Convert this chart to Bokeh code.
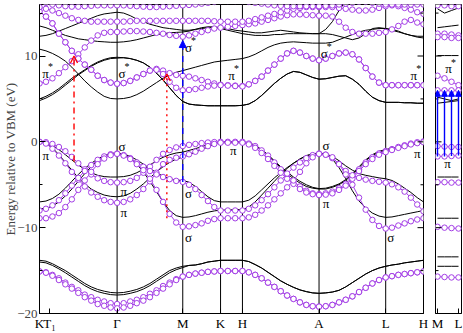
from bokeh.plotting import figure
from bokeh.layouts import row
from bokeh.models import Range1d, FixedTicker, Span, Arrow, OpenHead, NormalHead
from bokeh.core.properties import value
from bokeh.embed import file_html
from bokeh.resources import INLINE

SERIF = "Liberation Serif"
PURPLE = "#a33de6"

# ---------------- k-path (main panel) ----------------
hs_x = [0, 10, 78, 144, 182, 204, 281, 348, 386]
hs_labels = ["K", "T\u2081", "\u0393", "M", "K", "H", "A", "L", "H"]
vline_x = [78, 144, 182, 204, 281, 348]

kx = [0, 6.5, 13, 19.5, 26, 32.5, 39, 45.5, 52, 58.5, 65, 71.5, 78,
      84.6, 91.2, 97.8, 104.4, 111, 117.6, 124.2, 130.8, 137.4, 144,
      150.3, 156.7, 163, 169.3, 175.7, 182,
      189.3, 196.7, 204,
      210.4, 216.8, 223.3, 229.7, 236.1, 242.5, 248.9, 255.3, 261.8, 268.2, 274.6, 281,
      287.7, 294.4, 301.1, 307.8, 314.5, 321.2, 327.9, 334.6, 341.3, 348,
      354.3, 360.7, 367, 373.3, 379.7, 386]

# ---------------- black bands (main) ----------------
b_low1 = [-13.8, -13.9, -14.2, -14.6, -15.0, -15.5, -16.0, -16.5, -16.9, -17.2, -17.4, -17.55, -17.6,
          -17.55, -17.4, -17.2, -16.9, -16.5, -16.0, -15.5, -15.0, -14.7, -14.5,
          -14.4, -14.35, -14.2, -14.0, -13.9, -13.8,
          -13.8, -13.8, -13.8,
          -13.95, -14.3, -14.7, -15.2, -15.7, -16.2, -16.6, -16.95, -17.25, -17.45, -17.6, -17.65,
          -17.6, -17.5, -17.3, -16.9, -16.4, -15.9, -15.4, -15.0, -14.7, -14.5,
          -14.35, -14.25, -14.1, -14.0, -13.9, -13.8]
b_low2 = [-14.0, -14.1, -14.4, -14.8, -15.25, -15.75, -16.25, -16.75, -17.15, -17.45, -17.65, -17.8, -17.85,
          -17.8, -17.65, -17.45, -17.15, -16.75, -16.25, -15.75, -15.25, -14.9, -14.65,
          -14.4, -14.35, -14.2, -14.0, -13.9, -13.8,
          -13.8, -13.8, -13.8,
          -13.95, -14.3, -14.7, -15.2, -15.7, -16.2, -16.6, -16.95, -17.25, -17.45, -17.6, -17.65,
          -17.6, -17.5, -17.3, -16.9, -16.4, -15.9, -15.4, -15.0, -14.7, -14.5,
          -14.35, -14.25, -14.1, -14.0, -13.9, -13.8]
bv1 = [0.0, -0.1, -0.4, -0.9, -1.5, -2.1, -2.7, -3.2, -3.6, -3.9, -4.05, -4.1, -4.1,
       -4.05, -3.9, -3.6, -3.2, -2.7, -2.2, -1.8, -1.5, -1.3, -1.2,
       -1.0, -0.8, -0.55, -0.35, -0.15, 0.0,
       0.0, 0.0, 0.0,
       -0.1, -0.4, -0.9, -1.5, -2.2, -2.9, -3.5, -4.1, -4.6, -5.0, -5.3, -5.45,
       -5.4, -5.2, -4.9, -4.4, -3.7, -2.9, -2.1, -1.5, -1.1, -0.9,
       -0.75, -0.6, -0.45, -0.3, -0.15, 0.0]
bv2 = [0.0, -0.2, -0.7, -1.5, -2.4, -3.3, -4.2, -4.9, -5.5, -5.9, -6.2, -6.35, -6.4,
       -6.3, -6.0, -5.5, -4.9, -4.2, -3.5, -2.9, -2.4, -2.0, -1.8,
       -1.5, -1.2, -0.9, -0.6, -0.3, -0.1,
       -0.1, -0.1, -0.1,
       -0.2, -0.5, -1.0, -1.6, -2.3, -3.0, -3.7, -4.3, -4.8, -5.2, -5.4, -5.5,
       -5.5, -5.3, -5.0, -4.5, -3.8, -3.0, -2.2, -1.6, -1.2, -1.0,
       -0.85, -0.7, -0.55, -0.4, -0.25, -0.1]
bv3 = [-7.0, -6.9, -6.6, -6.1, -5.4, -4.6, -3.8, -3.1, -2.5, -2.0, -1.6, -1.35, -1.3,
       -1.4, -1.7, -2.1, -2.6, -3.1, -3.6, -4.0, -4.3, -4.45, -4.5,
       -4.7, -5.2, -5.8, -6.4, -6.85, -7.0,
       -7.0, -7.0, -7.0,
       -6.8, -6.3, -5.6, -4.9, -4.2, -3.6, -3.0, -2.5, -2.0, -1.65, -1.4, -1.3,
       -1.4, -1.7, -2.2, -2.8, -3.3, -3.7, -3.9, -4.05, -4.2, -4.3,
       -4.5, -4.9, -5.4, -5.9, -6.5, -7.0]
bv4 = [-7.8, -7.75, -7.5, -7.0, -6.3, -5.5, -4.6, -3.7, -2.9, -2.2, -1.7, -1.4, -1.3,
       -1.5, -1.9, -2.6, -3.5, -4.6, -5.8, -7.0, -8.0, -8.6, -8.8,
       -8.75, -8.6, -8.4, -8.2, -8.05, -7.95,
       -7.95, -7.9, -7.9,
       -7.6, -7.0, -6.2, -5.4, -4.6, -3.8, -3.1, -2.5, -2.0, -1.6, -1.4, -1.3,
       -1.5, -2.0, -3.0, -4.3, -5.7, -6.9, -7.7, -8.3, -8.65, -8.8,
       -8.75, -8.6, -8.45, -8.3, -8.15, -8.0]
bc1 = [5.0, 5.3, 5.7, 6.2, 6.8, 7.4, 7.9, 8.4, 8.9, 9.3, 9.6, 9.8, 9.85,
       9.8, 9.7, 9.5, 9.2, 8.7, 8.0, 7.2, 6.3, 5.4, 4.7,
       4.4, 4.3, 4.25, 4.2, 4.2, 4.2,
       4.2, 4.2, 4.25,
       4.4, 4.8, 5.4, 6.1, 6.8, 7.4, 7.9, 8.2, 8.1, 7.8, 7.5, 7.3,
       7.35, 7.5, 7.65, 7.7, 7.3, 6.7, 5.9, 5.2, 4.8, 4.6,
       4.6, 4.6, 4.55, 4.55, 4.5, 4.5]
bc1b = [4.8, 5.1, 5.5, 6.0, 6.6, 7.2, 7.8, 8.3, 8.8, 9.2, 9.5, 9.7, 9.75,
        9.8, 9.7, 9.5, 9.2, 8.7, 8.0, 7.2, 6.3, 5.4, 4.7,
        4.4, 4.3, 4.25, 4.2, 4.2, 4.2,
        4.2, 4.2, 4.25,
        4.4, 4.8, 5.4, 6.1, 6.8, 7.4, 7.9, 8.2, 8.1, 7.8, 7.5, 7.3,
        7.35, 7.5, 7.65, 7.7, 7.3, 6.7, 5.9, 5.2, 4.8, 4.6,
        4.6, 4.6, 4.55, 4.55, 4.5, 4.5]
bc2 = [10.8, 10.6, 10.3, 9.9, 9.4, 8.7, 7.9, 7.1, 6.4, 5.8, 5.3, 5.05, 5.0,
       5.05, 5.2, 5.5, 5.9, 6.4, 6.9, 7.4, 7.8, 8.1, 8.3,
       8.5, 8.7, 8.9, 9.1, 9.3, 9.4,
       9.5, 9.6, 9.7,
       9.9, 10.2, 10.6, 11.0, 11.3, 11.5, 11.6, 11.65, 11.6, 11.55, 11.5, 11.5,
       11.5, 11.6, 11.9, 12.2, 12.5, 12.8, 13.0, 13.1, 13.2, 13.2,
       13.1, 12.9, 12.6, 12.4, 12.2, 12.1]
bc3 = [13.5, 13.3, 13.0, 12.7, 12.4, 12.2, 12.0, 11.9, 11.8, 11.7, 11.65, 11.6, 11.6,
       11.65, 11.75, 11.9, 12.1, 12.3, 12.5, 12.6, 12.7, 12.75, 12.8,
       12.9, 13.1, 13.3, 13.4, 13.4, 13.3,
       13.2, 13.0, 12.9,
       12.8, 12.7, 12.7, 12.8, 12.9, 13.0, 12.9, 12.8, 12.7, 12.65, 12.6, 12.6,
       12.6, 12.5, 12.3, 12.1, 11.9, 12.1, 12.6, 13.2, 13.3, 13.2,
       13.0, 12.8, 12.6, 12.4, 12.3, 12.3]
bc4 = [12.3, 12.4, 12.6, 12.9, 13.2, 13.5, 13.8, 14.1, 14.4, 14.7, 14.9, 15.0, 15.1,
       15.0, 14.7, 14.3, 14.0, 13.7, 13.5, 13.3, 13.2, 13.1, 13.0,
       13.0, 13.1, 13.2, 13.3, 13.3, 13.2,
       13.0, 12.8, 12.6,
       12.5, 12.4, 12.4, 12.4, 12.5, 12.5, 12.6, 12.6, 12.6, 12.6, 12.6, 12.6,
       13.1, 14.0, 15.3, 16.4, 17.2, 17.6, 17.8, 17.8, 17.7, 17.5,
       17.3, 17.1, 16.9, 16.8, 16.7, 16.6]
black_bands = [b_low1, b_low2, bv1, bv2, bv3, bv4, bc1, bc1b, bc2, bc3, bc4]

# ---------------- purple bands (main) ----------------
p_low1 = [-15.1, -15.2, -15.5, -15.9, -16.4, -16.9, -17.3, -17.8, -18.1, -18.4, -18.6, -18.8, -18.9,
          -18.8, -18.6, -18.4, -18.1, -17.7, -17.3, -16.8, -16.4, -16.0, -15.7,
          -15.5, -15.35, -15.25, -15.15, -15.1, -15.05,
          -15.05, -15.05, -15.05,
          -15.2, -15.5, -15.9, -16.4, -16.9, -17.4, -17.9, -18.3, -18.7, -19.0, -19.15, -19.2,
          -19.15, -19.0, -18.7, -18.4, -18.0, -17.5, -17.0, -16.5, -16.1, -15.8,
          -15.65, -15.5, -15.4, -15.3, -15.2, -15.1]
p_low2 = [-15.1, -15.25, -15.6, -16.1, -16.6, -17.1, -17.6, -18.1, -18.5, -18.9, -19.1, -19.3, -19.4,
          -19.3, -19.1, -18.8, -18.5, -18.1, -17.6, -17.1, -16.6, -16.1, -15.7,
          -15.5, -15.35, -15.25, -15.15, -15.1, -15.05,
          -15.05, -15.05, -15.05,
          -15.2, -15.5, -15.9, -16.4, -16.9, -17.4, -17.9, -18.3, -18.7, -19.0, -19.15, -19.2,
          -19.15, -19.0, -18.7, -18.4, -18.0, -17.5, -17.0, -16.5, -16.1, -15.8,
          -15.65, -15.5, -15.4, -15.3, -15.2, -15.1]
p_pi1 = [0.0, -0.05, -0.25, -0.6, -1.1, -1.75, -2.5, -3.2, -3.8, -4.25, -4.55, -4.7, -4.75,
         -4.7, -4.55, -4.2, -3.6, -2.9, -2.1, -1.4, -0.95, -0.65, -0.49,
         -0.35, -0.25, -0.15, -0.08, -0.03, 0.0,
         0.0, 0.0, 0.0,
         -0.2, -0.5, -1.0, -1.6, -2.4, -3.2, -3.9, -4.6, -5.2, -5.7, -6.0, -6.1,
         -6.0, -5.8, -5.4, -4.9, -4.1, -3.2, -2.4, -1.8, -1.35, -1.07,
         -0.85, -0.6, -0.4, -0.2, -0.05, 0.05]
p_pi2 = [0.0, -0.2, -0.8, -1.6, -2.5, -3.5, -4.4, -5.2, -5.9, -6.4, -6.8, -7.0, -7.1,
         -7.0, -6.7, -6.2, -5.5, -4.6, -3.6, -2.6, -2.1, -1.85, -1.7,
         -1.45, -1.15, -0.8, -0.5, -0.25, -0.1,
         -0.1, -0.1, -0.1,
         -0.3, -0.7, -1.3, -2.0, -2.8, -3.6, -4.3, -4.9, -5.5, -5.9, -6.1, -6.2,
         -6.15, -6.0, -5.6, -5.1, -4.3, -3.4, -2.6, -2.0, -1.5, -1.2,
         -0.95, -0.7, -0.5, -0.3, -0.15, -0.05]
p_sig1 = [-8.0, -7.8, -7.4, -6.8, -6.0, -5.1, -4.2, -3.4, -2.7, -2.1, -1.7, -1.45, -1.37,
          -1.55, -1.9, -2.4, -2.9, -3.4, -3.8, -4.1, -4.35, -4.55, -4.67,
          -5.0, -5.5, -6.2, -6.9, -7.6, -8.0,
          -8.0, -8.0, -8.0,
          -7.8, -7.4, -6.8, -6.1, -5.3, -4.5, -3.7, -3.0, -2.4, -1.9, -1.55, -1.37,
          -1.5, -1.9, -2.6, -3.4, -3.9, -4.2, -4.4, -4.55, -4.65, -4.75,
          -4.95, -5.3, -5.8, -6.5, -7.3, -8.1]
p_sig2 = [-8.9, -8.9, -8.7, -8.3, -7.6, -6.7, -5.6, -4.5, -3.5, -2.6, -1.95, -1.55, -1.4,
          -1.6, -2.0, -2.6, -3.3, -4.3, -5.6, -7.0, -8.4, -9.4, -9.9,
          -9.85, -9.7, -9.5, -9.2, -9.0, -8.9,
          -8.9, -8.9, -8.9,
          -8.8, -8.5, -8.0, -7.4, -6.7, -6.0, -5.3, -4.5, -3.5, -2.5, -1.8, -1.4,
          -1.5, -1.8, -2.6, -3.8, -5.0, -6.5, -7.9, -9.1, -9.8, -10.1,
          -10.0, -9.75, -9.5, -9.25, -9.05, -8.9]
p_c1 = [6.8, 7.0, 7.4, 8.0, 8.7, 9.4, 10.2, 11.0, 11.8, 12.4, 12.7, 12.8, 12.8,
        12.85, 12.9, 12.9, 12.85, 12.8, 12.7, 12.6, 12.45, 12.35, 12.25,
        12.4, 12.6, 12.8, 13.0, 13.2, 13.3,
        13.4, 13.5, 13.6,
        13.7, 13.8, 14.0, 14.2, 14.4, 14.6, 14.75, 14.85, 14.85, 14.8, 14.75, 14.7,
        14.7, 14.6, 14.0, 13.3, 12.8, 12.6, 12.6, 12.6, 12.7, 12.8,
        13.1, 13.5, 14.0, 14.2, 13.9, 13.7]
p_c2 = [15.2, 14.6, 13.8, 12.6, 11.6, 10.6, 9.7, 9.0, 8.4, 7.7, 7.2, 6.9, 6.77,
        6.85, 7.1, 7.5, 7.9, 8.3, 8.5, 8.3, 8.0, 7.8, 7.7,
        7.6, 7.4, 7.2, 7.0, 6.8, 6.65,
        6.6, 6.55, 6.5,
        6.7, 7.1, 7.6, 8.3, 9.0, 9.7, 10.3, 10.6, 10.4, 10.0, 9.7, 9.5,
        9.7, 10.0, 10.3, 10.4, 10.2, 9.6, 8.6, 7.6, 6.9, 6.6,
        6.6, 6.6, 6.6, 6.6, 6.6, 6.6]
p_c3 = [15.2, 14.6, 13.8, 12.6, 11.6, 10.6, 9.7, 9.0, 8.4, 7.7, 7.2, 6.9, 6.77,
        6.85, 7.1, 7.5, 7.9, 8.3, 8.4, 7.9, 7.0, 6.3, 6.0,
        6.05, 6.15, 6.3, 6.45, 6.55, 6.6,
        6.55, 6.5, 6.45,
        6.7, 7.1, 7.6, 8.3, 9.0, 9.7, 10.3, 10.6, 10.4, 10.0, 9.7, 9.5,
        9.7, 10.0, 10.3, 10.4, 10.2, 9.6, 8.6, 7.6, 6.9, 6.6,
        6.6, 6.6, 6.6, 6.6, 6.6, 6.6]
p_c4 = [15.7, 15.5, 15.3, 15.0, 14.7, 14.4, 14.2, 14.1, 14.0, 14.0, 14.0, 14.0, 14.0,
        14.0, 14.05, 14.1, 14.1, 14.1, 14.1, 14.1, 14.1, 14.1, 14.1,
        14.1, 14.1, 14.1, 14.1, 14.05, 14.0,
        14.0, 14.0, 14.0,
        14.1, 14.3, 14.5, 14.7, 14.9, 15.1, 15.3, 15.5, 15.6, 15.7, 15.7, 15.7,
        15.7, 15.7, 15.6, 15.5, 15.4, 15.3, 15.3, 15.4, 15.6, 15.8,
        15.9, 15.8, 15.6, 15.4, 15.1, 14.9]
p_c5 = [16.4, 16.2, 16.0, 15.9, 15.8, 15.75, 15.75, 15.8, 15.85, 15.9, 15.9, 15.9, 15.9,
        15.9, 15.85, 15.8, 15.75, 15.7, 15.7, 15.75, 15.8, 15.85, 15.9,
        15.95, 16.0, 16.1, 16.2, 16.3, 16.4,
        16.4, 16.4, 16.4,
        16.3, 16.2, 16.1, 16.0, 15.9, 15.85, 15.8, 15.8, 15.8, 15.8, 15.8, 15.8,
        15.85, 15.9, 16.0, 16.1, 16.2, 16.3, 16.3, 16.2, 16.1, 16.0,
        16.0, 16.0, 16.0, 16.0, 16.0, 16.0]
purple_bands = [p_low1, p_low2, p_pi1, p_pi2, p_sig1, p_sig2, p_c1, p_c2, p_c3, p_c4, p_c5]

# ---------------- side panel (M-L) ----------------
side_ticks = [0, 21]
side_labels = ["M", "L"]
side_kx = [0, 7, 14, 21]
side_purple = [[15.9, 15.9, 15.8, 15.8], [12.6, 12.6, 12.5, 12.4], [12.2, 12.2, 12.1, 12.1],
               [7.7, 7.4, 7.0, 6.6], [6.0, 6.0, 6.0, 6.0], [-0.5, -0.55, -0.6, -0.6],
               [-1.7, -1.7, -1.65, -1.6], [-4.7, -4.7, -4.75, -4.75], [-9.9, -10.0, -10.05, -10.1],
               [-15.7, -15.75, -15.8, -15.8]]
side_black = [[15.5, 15.0, 15.3, 15.6], [13.3, 13.4, 13.5, 13.6], [10.05, 10.05, 10.05, 10.05],
              [5.2, 5.0, 4.8, 5.0], [4.5, 4.6, 4.7, 4.8], [-4.1, -4.1, -4.1, -4.1],
              [-8.9, -8.9, -8.9, -8.9], [-13.4, -13.4, -13.4, -13.4], [-14.5, -14.5, -14.5, -14.5]]
side_arrow_lo = [-1.7, -1.7, -1.65, -1.6]
side_arrow_hi = [6.0, 6.0, 6.0, 6.0]

# ---------------- transitions (main) ----------------
arrow_x = [34.7, 128, 144]
arrow_lo = [-2.3, -8.9, -4.67]
arrow_hi = [10.0, 7.9, 11.8]
arrow_color = ["red", "red", "blue"]
arrow_dash = ["dashdot", "dotted", "dashed"]

# ---------------- band labels ----------------
lab_t = ["\u03c0", "\u03c3", "\u03c3", "\u03c0", "\u03c3", "\u03c0",
         "\u03c0", "\u03c3", "\u03c0", "\u03c0", "\u03c3", "\u03c3", "\u03c0", "\u03c3", "\u03c0", "\u03c3", "\u03c0"]
lab_x = [6, 83, 149.7, 193, 286.3, 376.3,
         6.3, 83, 84.7, 84.7, 149.7, 149.7, 194.7, 288, 288, 353, 379.7]
lab_y = [8.0, 8.0, 11.0, 7.7, 10.25, 7.7,
         -1.57, -0.6, -5.8, -8.2, -6.0, -11.1, -1.0, -0.4, -7.2, -11.1, -1.4]
lab_star = [True, True, True, True, True, True,
            False, False, False, False, False, False, False, False, False, False, False]
side_lab_t = ["\u03c0", "\u03c0"]
side_lab_x = [11, 10]
side_lab_y = [8.5, -2.5]
side_lab_star = [True, False]

Y_TICKS = [-20, -10, 0, 10]
Y_MINOR = [-15, -5, 5, 15]
MAJOR_LEN = 6
MINOR_LEN = 3
FIG_H = 333


def style_common(fig):
    fig.xgrid.visible = False
    fig.ygrid.visible = False
    fig.outline_line_color = "black"
    fig.outline_line_width = 1
    fig.background_fill_color = "white"
    fig.border_fill_color = "white"
    for ax in fig.xaxis:
        ax.major_label_text_font = SERIF
        ax.major_label_text_font_size = "13px"
        ax.major_label_text_color = "black"
        ax.major_tick_in = 5
        ax.major_tick_out = 0
        ax.minor_tick_in = 0
        ax.minor_tick_out = 0
        ax.major_label_standoff = 2
        ax.axis_label_standoff = 0
        ax.axis_line_color = "black"


def add_inner_ticks(fig, x_edge, direction, px_per_unit):
    # mirrored inward y ticks drawn at a frame edge (same tick values as the y axis)
    maj = MAJOR_LEN / px_per_unit
    mnr = MINOR_LEN / px_per_unit
    fig.segment(x0=[x_edge] * len(Y_TICKS), y0=Y_TICKS,
                x1=[x_edge + direction * maj] * len(Y_TICKS), y1=Y_TICKS,
                line_color="black", line_width=1)
    fig.segment(x0=[x_edge] * len(Y_MINOR), y0=Y_MINOR,
                x1=[x_edge + direction * mnr] * len(Y_MINOR), y1=Y_MINOR,
                line_color="black", line_width=1)


def add_labels(fig, xs, ys, ts, stars, dx, dy):
    fig.text(x=xs, y=ys, text=ts, text_font=value(SERIF), text_font_size="13px",
             text_align="center", text_baseline="middle", text_color="black")
    sx = [x + dx for x, s in zip(xs, stars) if s]
    sy = [y + dy for y, s in zip(ys, stars) if s]
    fig.text(x=sx, y=sy, text=["*"] * len(sx), text_font=value(SERIF), text_font_size="10px",
             text_align="center", text_baseline="middle", text_color="black")


# ---------------- main figure ----------------
p = figure(width=429, height=FIG_H, x_range=Range1d(0, 386), y_range=Range1d(-20, 16),
           output_backend="svg", toolbar_location=None,
           min_border_left=37, min_border_right=6, min_border_top=4, min_border_bottom=19)
style_common(p)
p.xaxis.ticker = FixedTicker(ticks=hs_x)
p.xaxis.major_label_overrides = {x: l for x, l in zip(hs_x, hs_labels)}
p.yaxis.ticker = FixedTicker(ticks=Y_TICKS, minor_ticks=Y_MINOR)
p.yaxis.axis_label = "Energy relative to VBM (eV)"
p.yaxis.axis_label_text_font = SERIF
p.yaxis.axis_label_text_font_size = "13px"
p.yaxis.axis_label_text_font_style = "normal"
p.yaxis.axis_label_standoff = -4
p.yaxis.major_label_text_font = SERIF
p.yaxis.major_label_text_font_size = "13px"
p.yaxis.major_label_standoff = 2
p.yaxis.major_tick_in = MAJOR_LEN
p.yaxis.major_tick_out = 0
p.yaxis.minor_tick_in = MINOR_LEN
p.yaxis.minor_tick_out = 0
p.yaxis.axis_line_color = "black"

for xv in vline_x:
    p.add_layout(Span(location=xv, dimension="height", line_color="black", line_width=1, level="underlay"))

for b in black_bands:
    p.line(kx, b, line_color="black", line_width=1)
for b in purple_bands:
    p.line(kx, b, line_color=PURPLE, line_width=1)
for b in purple_bands:
    p.scatter(kx, b, marker="circle", size=5.5, line_color=PURPLE, fill_color="white", line_width=1)

add_inner_ticks(p, 386, -1, 1.0)

for xa, lo, hi, col, dash in zip(arrow_x, arrow_lo, arrow_hi, arrow_color, arrow_dash):
    if col == "red":
        head = OpenHead(size=7, line_color=col, line_width=1.3)
    else:
        head = NormalHead(size=7, fill_color=col, line_color=col)
    p.add_layout(Arrow(end=head, x_start=xa, y_start=lo, x_end=xa, y_end=hi,
                       line_color=col, line_width=1.4, line_dash=dash))

add_labels(p, lab_x, lab_y, lab_t, lab_star, 5, 0.8)

# ---------------- side figure ----------------
p2 = figure(width=34, height=FIG_H, x_range=Range1d(-2, 24), y_range=Range1d(-20, 16),
            output_backend="svg", toolbar_location=None,
            min_border_left=6, min_border_right=2, min_border_top=4, min_border_bottom=19)
style_common(p2)
p2.xaxis.ticker = FixedTicker(ticks=side_ticks)
p2.xaxis.major_label_overrides = {x: l for x, l in zip(side_ticks, side_labels)}
p2.yaxis.visible = False

for b in side_black:
    p2.line(side_kx, b, line_color="black", line_width=1)
for b in side_purple:
    p2.line(side_kx, b, line_color=PURPLE, line_width=1)
for b in side_purple:
    p2.scatter(side_kx, b, marker="circle", size=5.5, line_color=PURPLE, fill_color="white", line_width=1)
add_inner_ticks(p2, -2, 1, 1.0)
for xa, lo, hi in zip(side_kx, side_arrow_lo, side_arrow_hi):
    p2.add_layout(Arrow(end=NormalHead(size=6, fill_color="blue", line_color="blue"),
                        x_start=xa, y_start=lo, x_end=xa, y_end=hi,
                        line_color="blue", line_width=1.4))
add_labels(p2, side_lab_x, side_lab_y, side_lab_t, side_lab_star, 5, 0.8)

layout = row(p, p2)
open("out.html", "w").write(file_html(layout, INLINE))
